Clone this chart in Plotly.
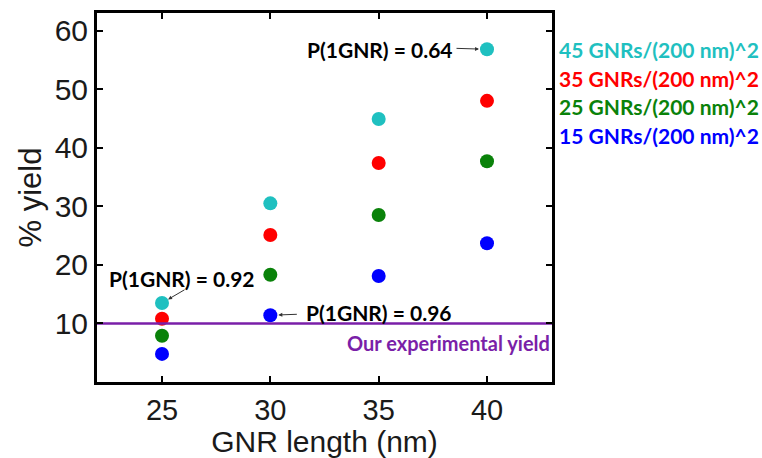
import plotly.graph_objects as go

lengths = [25, 30, 35, 40]
series_names = ["45 GNRs/(200 nm)^2", "35 GNRs/(200 nm)^2", "25 GNRs/(200 nm)^2", "15 GNRs/(200 nm)^2"]
yield_45 = [13.5, 30.5, 44.9, 56.8]
yield_35 = [10.8, 25.1, 37.4, 48.0]
yield_25 = [7.9, 18.3, 28.5, 37.7]
yield_15 = [4.8, 11.4, 18.1, 23.7]
series_values = [yield_45, yield_35, yield_25, yield_15]
series_colors = ["#1FC0C0", "#FF0000", "#0A820A", "#0000FF"]
experimental_yield = 10.0
x_ticks = [25, 30, 35, 40]
y_ticks = [10, 20, 30, 40, 50, 60]

fig = go.Figure()
for name, vals, col in zip(series_names, series_values, series_colors):
    fig.add_trace(go.Scatter(x=lengths, y=vals, mode="markers", name=name,
                             marker=dict(color=col, size=14, line=dict(width=0)),
                             showlegend=False))

fig.add_trace(go.Scatter(x=[22, 43], y=[experimental_yield, experimental_yield], mode="lines",
                         line=dict(color="#7A1FA8", width=2.5), showlegend=False))

lbl_family = "Lato, 'Open Sans', sans-serif"
ann_font = dict(family=lbl_family, size=21, color="black")
annotations = []
# legend-like labels
leg_y = [56.8, 51.9, 47.0, 42.1]
for name, col, yy in zip(series_names, series_colors, leg_y):
    annotations.append(dict(x=1.01, xref="paper", y=yy, yref="y", text="<b>%s</b>" % name,
                            showarrow=False, xanchor="left", yanchor="middle",
                            font=dict(family=lbl_family, size=21, color=col)))
# P(1GNR) labels
annotations.append(dict(x=38.5, y=56.7, xref="x", yref="y", text="<b>P(1GNR) = 0.64</b>",
                        showarrow=False, xanchor="right", yanchor="middle", font=ann_font))
annotations.append(dict(x=lengths[3], y=yield_45[3], xref="x", yref="y", text="", showarrow=True,
                        ax=-32, ay=-1, arrowhead=2, arrowsize=0.8, arrowwidth=1, arrowcolor="#333",
                        standoff=8))
annotations.append(dict(x=25.9, y=17.6, xref="x", yref="y", text="<b>P(1GNR) = 0.92</b>",
                        showarrow=False, xanchor="center", yanchor="middle", font=ann_font))
annotations.append(dict(x=lengths[0], y=yield_45[0], xref="x", yref="y", text="", showarrow=True,
                        ax=24, ay=-14, arrowhead=2, arrowsize=0.8, arrowwidth=1, arrowcolor="#333",
                        standoff=7))
annotations.append(dict(x=31.55, y=11.95, xref="x", yref="y", text="<b>P(1GNR) = 0.96</b>",
                        showarrow=False, xanchor="left", yanchor="middle", font=ann_font))
annotations.append(dict(x=lengths[1], y=yield_15[1], xref="x", yref="y", text="", showarrow=True,
                        ax=28, ay=-1, arrowhead=2, arrowsize=0.8, arrowwidth=1, arrowcolor="#333",
                        standoff=8))
annotations.append(dict(x=43, y=6.6, xref="x", yref="y", text="<b>Our experimental yield</b>",
                        showarrow=False, xanchor="right", yanchor="middle",
                        font=dict(family=lbl_family, size=20, color="#7A1FA8")))

axis_family = "Arial, 'Liberation Sans', sans-serif"
axis_font = dict(family=axis_family, size=29, color="#1a1a1a")
fig.update_layout(
    width=762, height=458,
    margin=dict(l=97, r=210, t=13, b=76),
    paper_bgcolor="white", plot_bgcolor="white",
    annotations=annotations,
    xaxis=dict(range=[22, 43], tickvals=x_ticks, ticks="inside", ticklen=6, tickwidth=2,
               tickcolor="black", showline=True, linewidth=3, linecolor="black", mirror="ticks",
               showgrid=False, zeroline=False, tickfont=axis_font, automargin=False,
               title=dict(text="GNR length (nm)", font=dict(family=axis_family, size=30, color="#1a1a1a"), standoff=3)),
    yaxis=dict(range=[0, 63], tickvals=y_ticks, ticks="inside", ticklen=6, tickwidth=2,
               tickcolor="black", showline=True, linewidth=3, linecolor="black", mirror="ticks",
               showgrid=False, zeroline=False, tickfont=dict(family=axis_family, size=30, color="#1a1a1a"),
               automargin=False,
               title=dict(text="% yield", font=dict(family=axis_family, size=31, color="#1a1a1a"), standoff=4)),
)

fig.write_html("out.html")
